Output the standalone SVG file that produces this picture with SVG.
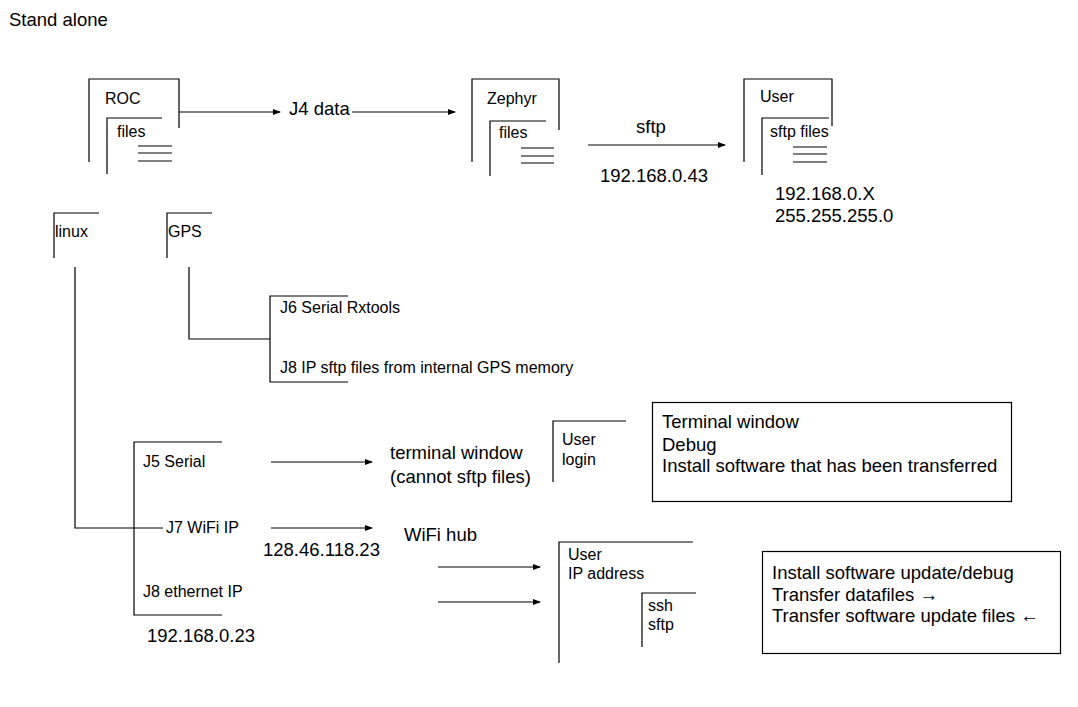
<svg xmlns="http://www.w3.org/2000/svg" width="1078" height="707" viewBox="0 0 1078 707">
<defs>
<marker id="ah" markerWidth="8" markerHeight="6" refX="7" refY="3" orient="auto" markerUnits="userSpaceOnUse">
<path d="M0,0 L8,3 L0,6 z" fill="#000"/>
</marker>
</defs>
<style>
.l{fill:none;stroke:#000;stroke-width:1.2}
.a{fill:none;stroke:#000;stroke-width:1.2;marker-end:url(#ah)}
text{font-family:"Liberation Sans",Arial,sans-serif;fill:#000}
.s{font-size:16px}
.b{font-size:18.5px}
</style>
<rect width="1078" height="707" fill="#fff"/>
<text class="b" x="9" y="26">Stand alone</text>

<g id="roc">
<path class="l" d="M89,162 V79 H179 V128"/>
<path class="l" d="M107,174 V118 H162"/>
<path class="l" d="M138,146 H172 M138,153 H172 M138,161 H172"/>
<text class="s" x="105" y="104">ROC</text>
<text class="s" x="117" y="137">files</text>
</g>
<g id="zephyr">
<path class="l" d="M472,162 V79 H559 V130"/>
<path class="l" d="M490,176 V121 H546"/>
<path class="l" d="M521,148 H554 M521,156 H554 M521,163 H554"/>
<text class="s" x="487" y="104">Zephyr</text>
<text class="s" x="499" y="138">files</text>
</g>
<g id="user1">
<path class="l" d="M744,162 V79 H832 V126"/>
<path class="l" d="M762,175 V118 H829"/>
<path class="l" d="M793,147 H827 M793,154 H827 M793,162 H827"/>
<text class="s" x="760" y="102">User</text>
<text class="s" x="770" y="137">sftp files</text>
<text class="b" x="775" y="200">192.168.0.X</text>
<text class="b" x="775" y="222">255.255.255.0</text>
</g>
<g id="linux">
<path class="l" d="M54,258 V213 H99"/>
<text class="s" x="55" y="237">linux</text>
</g>
<g id="gps">
<path class="l" d="M167,258 V213 H212"/>
<text class="s" x="168" y="237">GPS</text>
</g>
<g id="gpsports">
<path class="l" d="M348,296 H270 V382 H348"/>
<text class="s" x="280" y="313">J6 Serial Rxtools</text>
<text class="s" x="280" y="373">J8 IP sftp files from internal GPS memory</text>
</g>
<g id="linuxports">
<path class="l" d="M222,442 H134 V615 H222"/>
<text class="s" x="143" y="467">J5 Serial</text>
<text class="s" x="166" y="533">J7 WiFi IP</text>
<text class="s" x="143" y="597">J8 ethernet IP</text>
<text class="b" x="263" y="556">128.46.118.23</text>
<text class="b" x="147" y="642">192.168.0.23</text>
</g>
<g id="terminal">
<text class="b" x="390" y="459">terminal window</text>
<text class="b" x="390" y="483">(cannot sftp files)</text>
</g>
<g id="userlogin">
<path class="l" d="M553,482 V421 H626"/>
<text class="s" x="562" y="445">User</text>
<text class="s" x="562" y="465">login</text>
</g>
<g id="termbox">
<rect class="l" x="652.5" y="402.5" width="359" height="99"/>
<text class="b" x="662" y="428">Terminal window</text>
<text class="b" x="662" y="451">Debug</text>
<text class="b" x="662" y="472">Install software that has been transferred</text>
</g>
<g id="wifihub">
<text class="b" x="404" y="541">WiFi hub</text>
</g>
<g id="userip">
<path class="l" d="M559,663 V542 H693"/>
<path class="l" d="M642,647 V593 H696"/>
<text class="s" x="568" y="560">User</text>
<text class="s" x="568" y="579">IP address</text>
<text class="s" x="648" y="611">ssh</text>
<text class="s" x="648" y="630">sftp</text>
</g>
<g id="installbox">
<rect class="l" x="762.5" y="551.5" width="298" height="102"/>
<text class="b" x="772" y="579">Install software update/debug</text>
<text class="b" x="772" y="601">Transfer datafiles →</text>
<text class="b" x="772" y="622">Transfer software update files ←</text>
</g>
<g id="connectors">
<path class="a" d="M179,112 H280"/>
<text class="b" x="289" y="115">J4 data</text>
<path class="a" d="M352,112 H455"/>
<path class="a" d="M588,145 H725"/>
<text class="b" x="636" y="133">sftp</text>
<text class="b" x="600" y="182">192.168.0.43</text>
<path class="l" d="M75,267 V528 H163"/>
<path class="l" d="M189,267 V339 H270"/>
<path class="a" d="M271,462 H372"/>
<path class="a" d="M271,528 H372"/>
<path class="a" d="M438,567 H540"/>
<path class="a" d="M438,602 H540"/>
</g>
</svg>
